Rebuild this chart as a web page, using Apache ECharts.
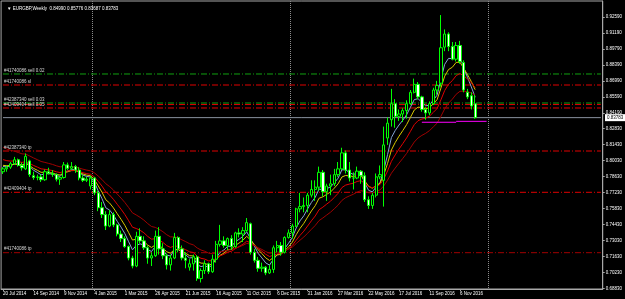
<!DOCTYPE html>
<html><head><meta charset="utf-8">
<script src="https://cdn.jsdelivr.net/npm/echarts@6/dist/echarts.min.js"></script>
<style>html,body{margin:0;padding:0;background:#000;}#c{width:625px;height:299px;}</style>
</head><body><div id="c"></div>
<script>
const dates = [
'20 Jul 2014','27 Jul 2014','3 Aug 2014','10 Aug 2014','17 Aug 2014','24 Aug 2014','31 Aug 2014','7 Sep 2014','14 Sep 2014','21 Sep 2014','28 Sep 2014','5 Oct 2014','12 Oct 2014','19 Oct 2014','26 Oct 2014','2 Nov 2014','9 Nov 2014','16 Nov 2014','23 Nov 2014','30 Nov 2014','7 Dec 2014','14 Dec 2014','21 Dec 2014','28 Dec 2014',
'4 Jan 2015','11 Jan 2015','18 Jan 2015','25 Jan 2015','1 Feb 2015','8 Feb 2015','15 Feb 2015','22 Feb 2015','1 Mar 2015','8 Mar 2015','15 Mar 2015','22 Mar 2015','29 Mar 2015','5 Apr 2015','12 Apr 2015','19 Apr 2015','26 Apr 2015','3 May 2015','10 May 2015','17 May 2015','24 May 2015','31 May 2015','7 Jun 2015','14 Jun 2015','21 Jun 2015','28 Jun 2015','5 Jul 2015','12 Jul 2015','19 Jul 2015','26 Jul 2015','2 Aug 2015','9 Aug 2015','16 Aug 2015','23 Aug 2015','30 Aug 2015','6 Sep 2015','13 Sep 2015','20 Sep 2015','27 Sep 2015','4 Oct 2015','11 Oct 2015','18 Oct 2015','25 Oct 2015','1 Nov 2015','8 Nov 2015','15 Nov 2015','22 Nov 2015','29 Nov 2015','6 Dec 2015','13 Dec 2015','20 Dec 2015','27 Dec 2015',
'3 Jan 2016','10 Jan 2016','17 Jan 2016','24 Jan 2016','31 Jan 2016','7 Feb 2016','14 Feb 2016','21 Feb 2016','28 Feb 2016','6 Mar 2016','13 Mar 2016','20 Mar 2016','27 Mar 2016','3 Apr 2016','10 Apr 2016','17 Apr 2016','24 Apr 2016','1 May 2016','8 May 2016','15 May 2016','22 May 2016','29 May 2016','5 Jun 2016','12 Jun 2016','19 Jun 2016','26 Jun 2016','3 Jul 2016','10 Jul 2016','17 Jul 2016','24 Jul 2016','31 Jul 2016','7 Aug 2016','14 Aug 2016','21 Aug 2016','28 Aug 2016','4 Sep 2016','11 Sep 2016','18 Sep 2016','25 Sep 2016','2 Oct 2016','9 Oct 2016','16 Oct 2016','23 Oct 2016','30 Oct 2016','6 Nov 2016','13 Nov 2016','20 Nov 2016','27 Nov 2016','4 Dec 2016'];
const emptyFutureSlots = 33;

const opens = [.7905,.7930,.7945,.7975,.8010,.7960,.7930,.8000,.7870,.7855,.7860,.7835,.7905,.7890,.7880,.7840,.7855,.7965,.7935,.7950,.7920,.7850,.7830,.7780,
.7850,.7720,.7590,.7530,.7430,.7530,.7440,.7360,.7320,.7250,.7150,.7080,.7340,.7300,.7240,.7150,.7170,.7340,.7230,.7170,.7090,.7150,.7330,.7230,.7150,.7070,.7100,.7160,.6970,.7040,.7100,.7030,.7140,.7270,.7300,.7260,.7320,.7250,.7370,.7360,.7390,.7450,.7200,.7130,.7060,.7070,.7020,.7050,.7240,.7260,.7200,.7330,
.7370,.7430,.7580,.7600,.7610,.7700,.7750,.7770,.7900,.7730,.7780,.7800,.7880,.7930,.8070,.7920,.7850,.7850,.7910,.7870,.7660,.7610,.7700,.7860,.7830,.8200,.8360,.8500,.8390,.8410,.8440,.8500,.8600,.8670,.8560,.8450,.8420,.8500,.8620,.8680,.8995,.9110,.9000,.8890,.9010,.8860,.8600,.8570,.84990];
const highs = [.7945,.7960,.7990,.8035,.8020,.7985,.8065,.8010,.7905,.7880,.7880,.7925,.7940,.7920,.7890,.7860,.7990,.7985,.7990,.7965,.7945,.7875,.7860,.7870,
.7860,.7740,.7640,.7560,.7570,.7550,.7450,.7390,.7340,.7260,.7170,.7380,.7410,.7340,.7260,.7200,.7390,.7420,.7280,.7190,.7180,.7370,.7340,.7260,.7200,.7140,.7180,.7175,.7060,.7130,.7110,.7180,.7300,.7440,.7340,.7330,.7350,.7380,.7410,.7420,.7500,.7460,.7230,.7160,.7110,.7080,.7090,.7260,.7300,.7290,.7340,.7400,
.7450,.7590,.7720,.7680,.7720,.7830,.7830,.7950,.7920,.7800,.7880,.7930,.7990,.8115,.8090,.7990,.7900,.7950,.7920,.7900,.7690,.7720,.7890,.7960,.8300,.8380,.8630,.8540,.8450,.8460,.8530,.8620,.8720,.8690,.8570,.8470,.8520,.8640,.8700,.9276,.9150,.9125,.9040,.9040,.9050,.8880,.8630,.8600,.85776];
const lows = [.7885,.7905,.7930,.7965,.7950,.7915,.7920,.7860,.7835,.7830,.7815,.7825,.7880,.7860,.7820,.7790,.7845,.7920,.7920,.7895,.7830,.7815,.7815,.7750,
.7700,.7560,.7500,.7395,.7420,.7420,.7340,.7290,.7240,.7130,.7060,.7070,.7280,.7220,.7100,.7080,.7160,.7180,.7140,.7050,.7040,.7140,.7200,.7130,.7060,.7040,.7040,.6950,.6936,.7010,.7010,.7020,.7110,.7250,.7240,.7220,.7220,.7240,.7330,.7290,.7380,.7180,.7110,.7030,.7030,.7000,.7010,.7020,.7200,.7170,.7190,.7320,
.7320,.7420,.7550,.7550,.7550,.7680,.7650,.7740,.7690,.7650,.7700,.7780,.7860,.7920,.7890,.7820,.7750,.7840,.7800,.7640,.7580,.7580,.7680,.7840,.7600,.8140,.8300,.8290,.8350,.8340,.8370,.8490,.8590,.8540,.8430,.8360,.8400,.8490,.8580,.8650,.8960,.8960,.8880,.8870,.8850,.8600,.8540,.8450,.83687];
const closes = [.7930,.7945,.7975,.8010,.7960,.7940,.8040,.7880,.7855,.7860,.7835,.7905,.7890,.7880,.7840,.7855,.7965,.7935,.7950,.7920,.7850,.7830,.7840,.7850,
.7720,.7590,.7530,.7430,.7530,.7440,.7360,.7320,.7250,.7150,.7080,.7340,.7300,.7240,.7150,.7170,.7340,.7230,.7170,.7090,.7150,.7330,.7230,.7150,.7130,.7100,.7160,.6970,.7040,.7100,.7030,.7140,.7270,.7300,.7260,.7320,.7250,.7370,.7360,.7390,.7460,.7200,.7130,.7060,.7070,.7020,.7050,.7240,.7260,.7200,.7330,.7370,
.7430,.7580,.7600,.7610,.7700,.7750,.7770,.7900,.7730,.7780,.7800,.7880,.7930,.8070,.7920,.7850,.7850,.7910,.7870,.7660,.7610,.7700,.7860,.7880,.8140,.8330,.8500,.8390,.8410,.8440,.8500,.8600,.8670,.8560,.8450,.8420,.8500,.8620,.8660,.8990,.9110,.9000,.8890,.9010,.8870,.8620,.8560,.8480,.83783];

// moving-average periods and their values at the left edge
const maPeriods = [5, 8, 13, 21];
const maStartValues = [0.7960, 0.7970, 0.8025, 0.8139];

const yTickValues = [0.92590,0.91190,0.89790,0.88390,0.86990,0.85590,0.84190,0.82830,0.81430,0.80030,0.78630,0.77230,0.75830,0.74430,0.73030,0.71630,0.70230,0.68830];
const yMin = 0.6879, yMax = 0.9399;

const orderLevels = [0.87603, 0.86640, 0.85065, 0.84930, 0.84628, 0.80865, 0.77251, 0.71968];
const orderTexts  = ['#41740086 sell 0.02', '#41740086 sl', '#42387340 sell 0.03', '', '#42409404 sell 0.05', '#42387340 tp', '#42409404 tp', '#41740086 tp'];
const orderKinds  = ['entry', 'sl', 'entry', 'sl', 'sl', 'tp', 'tp', 'tp2'];
const bidPrice = 0.83783;
const magentaFrom = [110, 119], magentaTo = [119, 127], magentaPrice = [0.8338, 0.8346];
const yearStartIdx = [24, 76, 128];
const titleText = '\u25BC EURGBP,Weekly  0.84990 0.85776 0.83687 0.83783';

const cats = dates.slice();
for (let k = 0; k < emptyFutureSlots; k++) cats.push('');
const lastIdx = cats.length - 1;

function ema(period, seed) {
  const a = 2 / (period + 1); let e = seed; const out = [];
  for (let i = 0; i < closes.length; i++) { e = e + a * (closes[i] - e); out.push(+e.toFixed(5)); }
  return out;
}
const maColors = ['#86a6d6', '#d8c800', '#e00000', '#a00000'];
const kindColor = {entry: '#10a010', sl: '#e00000', tp: '#e00000', tp2: '#a00000'};
const FONT = 'Liberation Sans';
const FS = 4.5;
const GRID = {left: 1, right: 21, top: 1, bottom: 10};

function levelLine(lv, color, dash) {
  return {
    type: 'line', silent: true, symbol: 'none', z: 2,
    lineStyle: {color: color, type: dash, width: 1},
    data: [[0, lv], [lastIdx, lv]]
  };
}
const levelSeries = orderLevels.map((lv, i) => levelLine(lv, kindColor[orderKinds[i]], [6, 2, 1, 2]));
const bidSeries = levelLine(bidPrice, '#8a93a0', 'solid');
const magentaSeries = magentaFrom.map((f, k) => ({
  type: 'line', silent: true, symbol: 'none', z: 4,
  lineStyle: {color: '#ff00ff', width: 1},
  data: [[f, magentaPrice[k]], [magentaTo[k], magentaPrice[k]]]
}));

const lblShow = (idx) => idx % 8 === 0 && idx < dates.length;
const chart = echarts.init(document.getElementById('c'), null, {renderer: 'canvas'});
chart.setOption({
  backgroundColor: '#000',
  animation: false,
  title: {text: titleText, left: 2, top: 1, textStyle: {color: '#fff', fontSize: FS, fontWeight: 'normal', fontFamily: FONT}},
  grid: Object.assign({show: true, borderColor: '#a8a8a8', borderWidth: 1, backgroundColor: '#000'}, GRID),
  xAxis: {
    type: 'category', data: cats, boundaryGap: true,
    axisLine: {show: true, lineStyle: {color: '#a8a8a8'}},
    axisTick: {show: true, interval: lblShow, alignWithLabel: true, length: 2, lineStyle: {color: '#a8a8a8'}},
    axisLabel: {show: true, interval: lblShow, align: 'left', margin: 2, color: '#fff', fontSize: FS, fontFamily: FONT},
    splitLine: {show: true, interval: (idx) => yearStartIdx.includes(idx), lineStyle: {color: '#8c8c8c', type: [1, 1], width: 1}}
  },
  yAxis: {
    type: 'value', position: 'right', min: yMin, max: yMax, scale: true,
    axisLine: {show: true, lineStyle: {color: '#a8a8a8'}},
    axisTick: {show: true, length: 2, customValues: yTickValues, lineStyle: {color: '#a8a8a8'}},
    axisLabel: {show: true, customValues: yTickValues, margin: 3, color: '#fff', fontSize: FS, fontFamily: FONT,
      formatter: (v) => v.toFixed(5)},
    splitLine: {show: false}
  },
  series: [
    ...levelSeries,
    bidSeries,
    {
      type: 'candlestick', barWidth: 2.8, z: 3,
      data: dates.map((d, i) => [opens[i], closes[i], lows[i], highs[i]]),
      itemStyle: {color: '#000', color0: '#fff', borderColor: '#00ff00', borderColor0: '#00ff00', borderWidth: 1}
    },
    ...maPeriods.map((p, k) => ({
      type: 'line', data: ema(p, maStartValues[k]), symbol: 'none', smooth: false, silent: true, z: 3,
      lineStyle: {color: maColors[k], width: 1}
    })),
    ...magentaSeries
  ]
});
// texts attached to price levels, placed through the y axis scale
const gfx = [];
orderLevels.forEach((lv, i) => {
  if (!orderTexts[i]) return;
  const py = chart.convertToPixel({yAxisIndex: 0}, lv);
  gfx.push({type: 'text', x: GRID.left + 3, y: py - 1, z: 10, silent: true,
    style: {text: orderTexts[i], fill: '#d8d8d8', fontSize: FS, fontFamily: FONT, verticalAlign: 'bottom', align: 'left'}});
});
const yPix = chart.convertToPixel({yAxisIndex: 0}, bidPrice);
gfx.push({type: 'rect', x: chart.getWidth() - GRID.right + 1, y: yPix - 3.5, z: 10, silent: true,
  shape: {width: 22, height: 7}, style: {fill: '#ffffff'}});
gfx.push({type: 'text', x: chart.getWidth() - GRID.right + 3, y: yPix, z: 11, silent: true,
  style: {text: bidPrice.toFixed(5), fill: '#000', fontSize: FS, fontFamily: FONT, verticalAlign: 'middle', align: 'left'}});
chart.setOption({graphic: gfx});
</script></body></html>
